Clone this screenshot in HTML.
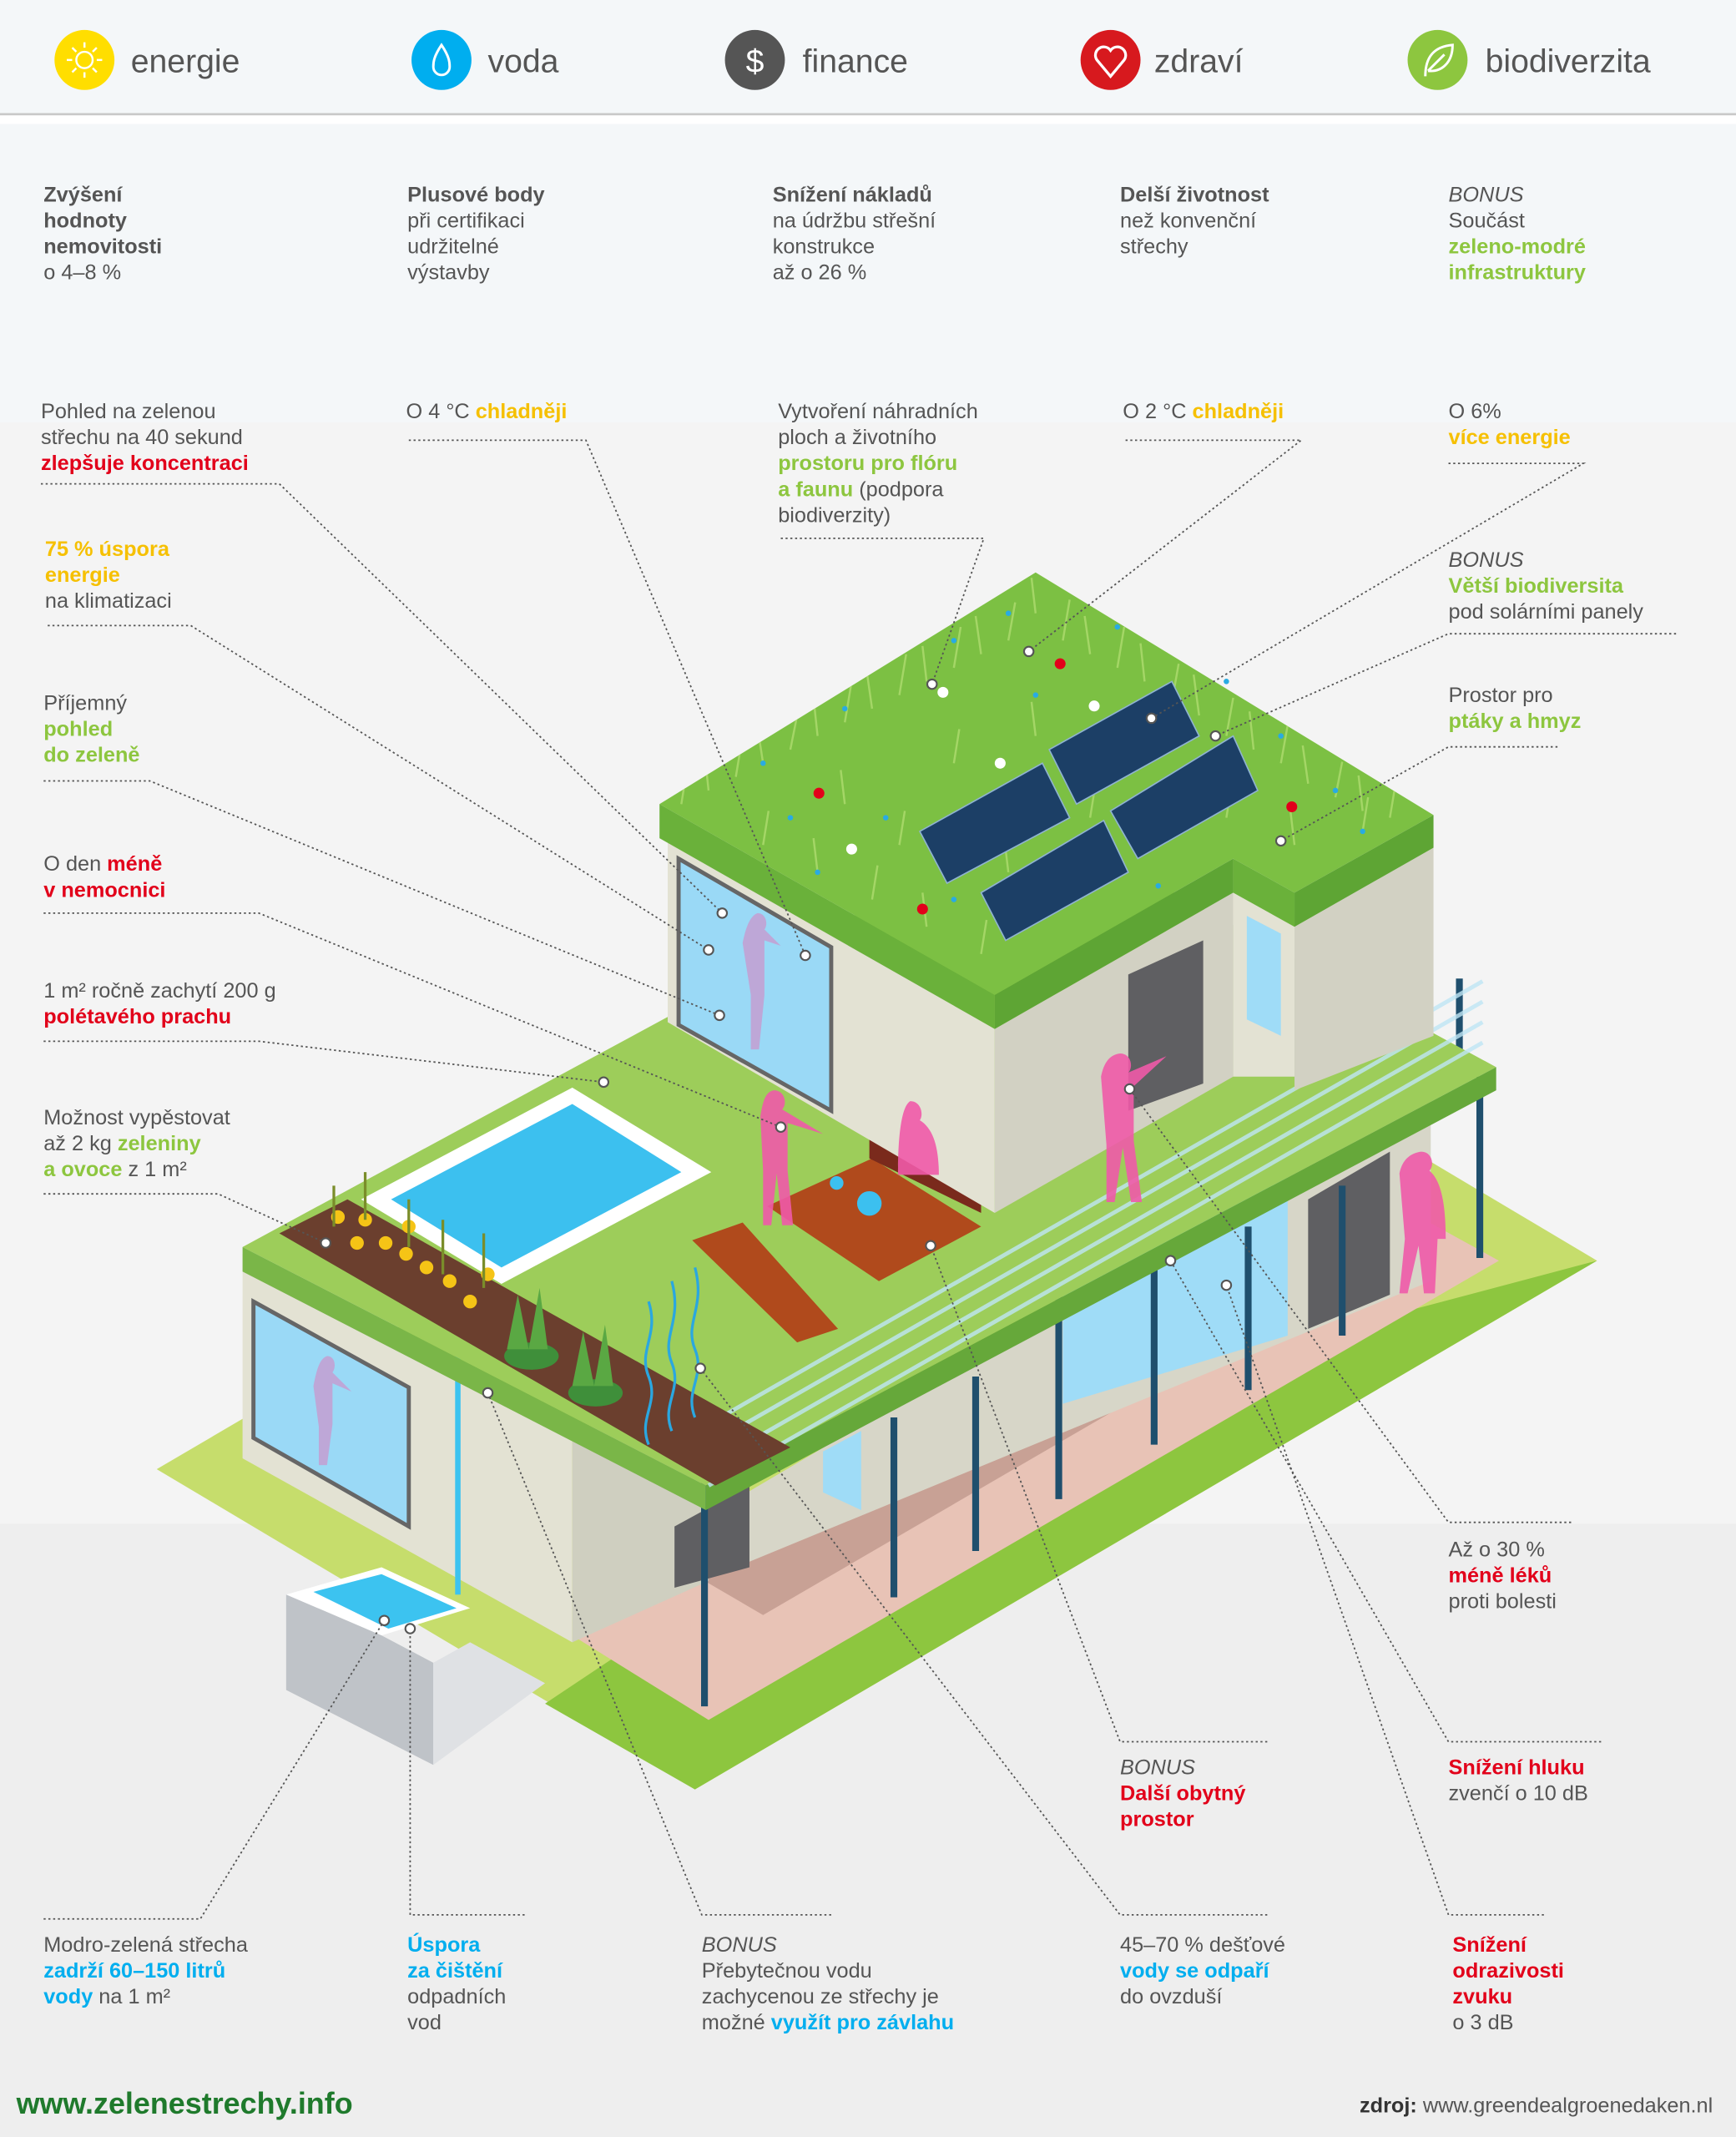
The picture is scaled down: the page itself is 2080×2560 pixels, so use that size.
<!DOCTYPE html>
<html><head><meta charset="utf-8"><style>
html,body{margin:0;padding:0;background:#f4f4f4}
svg{display:block}
text{font-family:"Liberation Sans",sans-serif;fill:#555;font-size:15.5px}
.b{font-weight:bold}
.r{fill:#e2001a;font-weight:bold}
.g{fill:#8dc63f;font-weight:bold}
.y{fill:#f6c000;font-weight:bold}
.bl{fill:#00aeef;font-weight:bold}
.i{font-style:italic}
.ld{fill:none;stroke:#555;stroke-width:1.1;stroke-dasharray:1.5 2}
.dot{fill:#fff;stroke:#555;stroke-width:1.3}
</style></head><body>
<svg width="2080" height="2560" viewBox="0 0 1274 1568" xmlns="http://www.w3.org/2000/svg">
<defs><clipPath id="roofc"><polygon points="484,590 760,420 1052,598 950,655 905,630 730,730"/></clipPath></defs>
<rect x="0" y="0" width="1274" height="1568" fill="#f4f4f4"/>
<rect x="0" y="0" width="1274" height="83" fill="#f4f7f9"/>
<rect x="0" y="83" width="1274" height="1.5" fill="#c8c8c8"/>
<rect x="0" y="85" width="1274" height="6" fill="#ffffff"/>
<rect x="0" y="91" width="1274" height="219" fill="#f4f7f9"/>
<rect x="0" y="1118" width="1274" height="450" fill="#eeeeee"/>

<circle cx="62" cy="44" r="22" fill="#ffde00"/>
<circle cx="62" cy="44" r="6" fill="none" stroke="#fff" stroke-width="1.5"/>
<g stroke="#fff" stroke-width="1.5"><line x1="62" y1="31" x2="62" y2="35"/><line x1="62" y1="53" x2="62" y2="57"/><line x1="49" y1="44" x2="53" y2="44"/><line x1="71" y1="44" x2="75" y2="44"/><line x1="53" y1="35" x2="56" y2="38"/><line x1="68" y1="50" x2="71" y2="53"/><line x1="53" y1="53" x2="56" y2="50"/><line x1="68" y1="38" x2="71" y2="35"/></g>
<text x="96" y="53" style="font-size:24px">energie</text>
<circle cx="324" cy="44" r="22" fill="#00aeef"/>
<path d="M324 33 C318 42 318 46 318 49 A6 6 0 0 0 330 49 C330 46 330 42 324 33Z" fill="none" stroke="#fff" stroke-width="1.8"/>
<text x="358" y="53" style="font-size:24px">voda</text>
<circle cx="554" cy="44" r="22" fill="#555"/>
<text x="554" y="53" text-anchor="middle" style="font-size:24px;fill:#fff">$</text>
<text x="589" y="53" style="font-size:24px">finance</text>
<circle cx="815" cy="44" r="22" fill="#d7191e"/>
<path d="M815 56 L805 44 A5.5 5.5 0 0 1 815 37 A5.5 5.5 0 0 1 825 44 Z" fill="none" stroke="#fff" stroke-width="2"/>
<text x="847" y="53" style="font-size:24px">zdraví</text>
<circle cx="1055" cy="44" r="22" fill="#8dc63f"/>
<path d="M1046 56 C1046 40 1054 34 1066 33 C1066 46 1058 53 1048 52 M1048 52 L1060 40" fill="none" stroke="#fff" stroke-width="1.8"/>
<text x="1090" y="53" style="font-size:24px">biodiverzita</text>

<text x="32" y="148" class="b">Zvýšení</text><text x="32" y="167" class="b">hodnoty</text><text x="32" y="186" class="b">nemovitosti</text><text x="32" y="205">o 4–8 %</text>
<text x="299" y="148" class="b">Plusové body</text><text x="299" y="167">při certifikaci</text><text x="299" y="186">udržitelné</text><text x="299" y="205">výstavby</text>
<text x="567" y="148" class="b">Snížení nákladů</text><text x="567" y="167">na údržbu střešní</text><text x="567" y="186">konstrukce</text><text x="567" y="205">až o 26 %</text>
<text x="822" y="148" class="b">Delší životnost</text><text x="822" y="167">než konvenční</text><text x="822" y="186">střechy</text>
<text x="1063" y="148" class="i">BONUS</text><text x="1063" y="167">Součást</text><text x="1063" y="186" class="g">zeleno-modré</text><text x="1063" y="205" class="g">infrastruktury</text>

<polygon points="115,1078 777,690 1172,925 510,1313" fill="#c6dd6c"/>
<polygon points="700,1050 1172,925 510,1313 400,1250" fill="#8dc63f"/>
<polygon points="420,1200 1000,870 1100,925 520,1262" fill="#e8c3b6"/>
<polygon points="500,1150 1000,870 1050,900 560,1185" fill="#c8a195"/>
<polygon points="178,920 420,1055 420,1205 178,1070" fill="#e3e2d3"/>
<polygon points="420,1055 520,1000 520,1160 420,1205" fill="#cfcfc0"/>
<polygon points="540,1100 1050,800 1050,940 540,1150" fill="#d7d6c8"/>
<polygon points="780,940 945,850 945,980 780,1030" fill="#9fdcf7"/>
<polygon points="960,880 1020,845 1020,950 960,975" fill="#5f5f62"/>
<polygon points="495,1120 550,1090 550,1150 495,1165" fill="#5f5f62"/>
<polygon points="604,1065 632,1050 632,1108 604,1095" fill="#9fdcf7"/>
<polygon points="186,955 300,1018 300,1120 186,1055" fill="#9ad9f6" stroke="#666" stroke-width="3"/>
<path d="M240 995 c6 0 7 8 4 12 l14 14 -14 -6 0 30 -4 30 -6 0 0 -28 -4 -30 c2-10 4-20 10-22z" fill="#c79ad0" opacity=".8"/>
<polygon points="210,1170 280,1150 345,1180 280,1200" fill="#ffffff"/>
<polygon points="230,1168 280,1155 335,1180 285,1195" fill="#3cc3f0"/>
<polygon points="210,1170 280,1200 318,1220 318,1295 210,1240" fill="#bfc3c8"/>
<polygon points="318,1220 345,1205 400,1235 318,1295" fill="#dfe1e4"/>
<line x1="336" y1="995" x2="336" y2="1170" stroke="#3cc3f0" stroke-width="4"/>
<g stroke="#1f4f6d" stroke-width="5">
<line x1="517" y1="1040" x2="517" y2="1252"/><line x1="656" y1="1040" x2="656" y2="1172"/><line x1="716" y1="1010" x2="716" y2="1138"/><line x1="777" y1="890" x2="777" y2="1100"/><line x1="847" y1="930" x2="847" y2="1060"/><line x1="916" y1="900" x2="916" y2="1020"/><line x1="985" y1="870" x2="985" y2="980"/><line x1="1086" y1="790" x2="1086" y2="923"/><line x1="1071" y1="718" x2="1071" y2="785"/>
</g>
<polygon points="178,915 760,600 1098,783 518,1090" fill="#9dcd5a"/>
<polygon points="178,915 518,1090 518,1108 178,933" fill="#7ab648"/>
<polygon points="518,1090 1098,783 1098,800 518,1108" fill="#66a83a"/>
<g stroke="#bfe6f5" stroke-width="3" opacity=".8"><line x1="520" y1="1045" x2="1088" y2="720"/><line x1="520" y1="1060" x2="1088" y2="735"/><line x1="520" y1="1075" x2="1088" y2="750"/><line x1="520" y1="1090" x2="1088" y2="765"/></g>
<polygon points="205,905 255,880 580,1062 525,1090" fill="#6b3f2e"/>
<polygon points="265,880 420,798 522,860 368,942" fill="#ffffff"/>
<polygon points="287,880 420,810 500,860 368,930" fill="#3cc0ef"/>
<g fill="#f5c416"><circle cx="248" cy="893" r="5"/><circle cx="268" cy="895" r="5"/><circle cx="283" cy="912" r="5"/><circle cx="298" cy="920" r="5"/><circle cx="313" cy="930" r="5"/><circle cx="330" cy="940" r="5"/><circle cx="345" cy="955" r="5"/><circle cx="358" cy="935" r="5"/><circle cx="262" cy="912" r="5"/><circle cx="300" cy="900" r="5"/></g>
<g stroke="#7a8d2a" stroke-width="2" fill="none"><path d="M245 870 v30 M268 860 v35 M300 880 v35 M325 895 v40 M355 905 v40"/></g>
<ellipse cx="390" cy="995" rx="20" ry="10" fill="#3f8f3a"/><path d="M372 990 l8-40 8 40 8-45 6 45z" fill="#5aa843"/>
<ellipse cx="437" cy="1022" rx="20" ry="10" fill="#3f8f3a"/><path d="M420 1017 l8-40 8 40 8-45 6 45z" fill="#5aa843"/>
<g stroke="#2aa7e0" stroke-width="2" fill="none"><path d="M476 1060 c-8-20 8-30 0-50 s8-30 0-55"/><path d="M493 1050 c-8-20 8-30 0-50 s8-30 0-60"/><path d="M510 1040 c-8-20 8-30 0-50 s8-30 0-60"/></g>
<polygon points="563,885 640,850 720,900 645,940" fill="#b04a1c"/>
<polygon points="638,820 720,860 720,890 638,850" fill="#7a2a1c"/>
<polygon points="508,910 545,897 615,975 585,985" fill="#b04a1c"/>
<circle cx="638" cy="883" r="9" fill="#3cc0ef"/><circle cx="614" cy="868" r="5" fill="#3cc0ef"/>
<polygon points="490,615 730,755 730,890 490,750" fill="#e3e2d3"/>
<polygon points="730,755 905,655 905,790 730,890" fill="#d2d1c3"/>
<polygon points="905,655 950,680 950,790 905,790" fill="#e3e2d3"/>
<polygon points="950,680 1052,622 1052,760 950,800" fill="#d2d1c3"/>
<polygon points="828,715 883,690 883,795 828,815" fill="#5f5f62"/>
<polygon points="915,672 940,685 940,760 915,748" fill="#9fdcf7"/>
<polygon points="498,630 610,695 610,815 498,752" fill="#9ad9f6" stroke="#666" stroke-width="3"/>
<path d="M556 670 c6 0 8 8 5 12 l12 12 -12-4 0 40 -4 40 -6 0 0-40 -6-38 c2-10 5-20 11-22z" fill="#c79ad0" opacity=".8"/>
<g fill="#ef5aa8" opacity=".9">
<path d="M568 800 c8 0 10 10 6 14 l30 18 -26-8 0 35 4 40 -8 0 -4-38 -4 38 -6 0 0-40 -2-40 c2-12 4-18 10-19z"/>
<path d="M668 808 c8 0 10 10 7 14 c10 6 14 20 14 40 l-30 0 c0-25 2-50 9-54z"/>
<path d="M822 773 c8 0 10 10 6 14 l28-12 -24 22 0 40 6 45 -8 0 -6-40 -6 40 -6 0 0-42 -4-50 c2-10 6-16 14-17z"/>
<path d="M1043 845 c8 0 10 10 6 14 c10 8 12 30 12 50 l-6 0 -2 40 -8 0 -4-35 -8 35 -6 0 4-40 -4 -48 c2-10 8-15 16-16z"/>
</g>
<polygon points="484,590 760,420 1052,598 950,655 905,630 730,730" fill="#7cc043"/>
<g clip-path="url(#roofc)" stroke="#a8d86a" stroke-width="1.5" fill="none" opacity=".9">
<path d="M500 590 l4-25 M520 580 l-3-28 M540 570 l5-30 M560 560 l-4-26 M580 550 l6-30 M600 540 l-3-28 M620 530 l5-30 M640 520 l-4-28 M660 510 l5-30 M680 500 l-3-26 M700 490 l5-30 M720 480 l-4-28 M740 470 l5-28 M760 450 l-3-26 M780 470 l5-30 M800 480 l-4-28 M820 490 l5-30 M840 500 l-3-28 M860 515 l5-28 M880 525 l-4-30 M900 540 l5-28 M920 550 l-3-28 M940 560 l5-28 M960 575 l-4-28 M980 585 l5-26 M1000 595 l-3-26 M1020 600 l4-24
M560 620 l4-25 M600 640 l-3-25 M640 660 l4-25 M680 680 l-3-25 M720 700 l4-25 M620 590 l-3-25 M700 560 l4-25 M760 540 l-3-25 M800 600 l4-25 M850 620 l-3-25 M900 600 l4-25 M950 620 l-3-25 M1000 610 l4-25 M740 640 l-3-25 M660 620 l4-25"/>
</g>
<polygon points="484,590 730,730 730,755 484,615" fill="#6ab13a"/>
<polygon points="730,730 905,630 905,655 730,755" fill="#5ea534"/>
<polygon points="905,630 950,655 950,680 905,655" fill="#6ab13a"/>
<polygon points="950,655 1052,598 1052,622 950,680" fill="#5ea534"/>
<g fill="#29abe2"><circle cx="560" cy="560" r="2"/><circle cx="620" cy="520" r="2"/><circle cx="700" cy="470" r="2"/><circle cx="760" cy="510" r="2"/><circle cx="820" cy="460" r="2"/><circle cx="650" cy="600" r="2"/><circle cx="700" cy="660" r="2"/><circle cx="900" cy="500" r="2"/><circle cx="980" cy="580" r="2"/><circle cx="1000" cy="610" r="2"/><circle cx="850" cy="650" r="2"/><circle cx="600" cy="640" r="2"/><circle cx="580" cy="600" r="2"/><circle cx="740" cy="450" r="2"/><circle cx="940" cy="540" r="2"/></g>
<g fill="#e2001a"><circle cx="601" cy="582" r="4"/><circle cx="778" cy="487" r="4"/><circle cx="677" cy="667" r="4"/><circle cx="948" cy="592" r="4"/></g>
<g fill="#fff"><circle cx="692" cy="508" r="4"/><circle cx="734" cy="560" r="4"/><circle cx="803" cy="518" r="4"/><circle cx="625" cy="623" r="4"/></g>
<g fill="#1c3f66" stroke="#8fb3d0" stroke-width="1">
<polygon points="675,610 765,560 785,600 695,648"/>
<polygon points="720,655 810,602 828,640 738,690"/>
<polygon points="770,550 860,500 880,540 790,590"/>
<polygon points="815,595 905,540 923,580 835,630"/>
</g>
<g class="ld">
<polyline points="30,355 205,355 530,670"/>
<polyline points="300,323 430,323 591,701"/>
<polyline points="573,395 722,395 684,502"/>
<polyline points="826,323 955,323 755,478"/>
<polyline points="1063,340 1162,340 845,527"/>
<polyline points="1230,465 1063,465 892,540"/>
<polyline points="1143,548 1063,548 940,617"/>
<polyline points="35,459 140,459 520,697"/>
<polyline points="32,573 110,573 528,745"/>
<polyline points="32,670 190,670 573,827"/>
<polyline points="32,764 190,764 443,794"/>
<polyline points="32,876 160,876 239,912"/>
<polyline points="32,1408 147,1408 282,1189"/>
<polyline points="385,1405 301,1405 301,1195"/>
<polyline points="610,1405 515,1405 358,1022"/>
<polyline points="930,1405 822,1405 514,1004"/>
<polyline points="930,1278 822,1278 683,914"/>
<polyline points="1175,1278 1063,1278 859,925"/>
<polyline points="1133,1405 1063,1405 900,943"/>
<polyline points="1153,1117 1063,1117 829,799"/>
</g>
<g class="dot">
<circle cx="530" cy="670" r="3.5"/><circle cx="591" cy="701" r="3.5"/><circle cx="684" cy="502" r="3.5"/><circle cx="755" cy="478" r="3.5"/><circle cx="845" cy="527" r="3.5"/><circle cx="892" cy="540" r="3.5"/><circle cx="940" cy="617" r="3.5"/><circle cx="520" cy="697" r="3.5"/><circle cx="528" cy="745" r="3.5"/><circle cx="573" cy="827" r="3.5"/><circle cx="443" cy="794" r="3.5"/><circle cx="239" cy="912" r="3.5"/><circle cx="282" cy="1189" r="3.5"/><circle cx="301" cy="1195" r="3.5"/><circle cx="358" cy="1022" r="3.5"/><circle cx="514" cy="1004" r="3.5"/><circle cx="683" cy="914" r="3.5"/><circle cx="859" cy="925" r="3.5"/><circle cx="900" cy="943" r="3.5"/><circle cx="829" cy="799" r="3.5"/>
</g>

<text x="30" y="307">Pohled na zelenou</text><text x="30" y="326">střechu na 40 sekund</text><text x="30" y="345" class="r">zlepšuje koncentraci</text>
<text x="298" y="307">O 4 °C <tspan class="y">chladněji</tspan></text>
<text x="571" y="307">Vytvoření náhradních</text><text x="571" y="326">ploch a životního</text><text x="571" y="345" class="g">prostoru pro flóru</text><text x="571" y="364"><tspan class="g">a faunu</tspan> (podpora</text><text x="571" y="383">biodiverzity)</text>
<text x="824" y="307">O 2 °C <tspan class="y">chladněji</tspan></text>
<text x="1063" y="307">O 6%</text><text x="1063" y="326" class="y">více energie</text>
<text x="1063" y="416" class="i">BONUS</text><text x="1063" y="435" class="g">Větší biodiversita</text><text x="1063" y="454">pod solárními panely</text>
<text x="1063" y="515">Prostor pro</text><text x="1063" y="534" class="g">ptáky a  hmyz</text>
<text x="33" y="408" class="y">75 % úspora</text><text x="33" y="427" class="y">energie</text><text x="33" y="446">na klimatizaci</text>
<text x="32" y="521">Příjemný</text><text x="32" y="540" class="g">pohled</text><text x="32" y="559" class="g">do zeleně</text>
<text x="32" y="639">O den <tspan class="r">méně</tspan></text><text x="32" y="658" class="r">v nemocnici</text>
<text x="32" y="732">1 m² ročně zachytí 200 g</text><text x="32" y="751" class="r">polétavého prachu</text>
<text x="32" y="825">Možnost vypěstovat</text><text x="32" y="844">až 2 kg <tspan class="g">zeleniny</tspan></text><text x="32" y="863"><tspan class="g">a ovoce</tspan> z 1 m²</text>
<text x="1063" y="1142">Až o 30 %</text><text x="1063" y="1161" class="r">méně léků</text><text x="1063" y="1180">proti bolesti</text>
<text x="822" y="1302" class="i">BONUS</text><text x="822" y="1321" class="r">Další obytný</text><text x="822" y="1340" class="r">prostor</text>
<text x="1063" y="1302" class="r">Snížení hluku</text><text x="1063" y="1321">zvenčí o 10 dB</text>
<text x="32" y="1432">Modro-zelená střecha</text><text x="32" y="1451" class="bl">zadrží 60–150 litrů</text><text x="32" y="1470"><tspan class="bl">vody</tspan> na 1 m²</text>
<text x="299" y="1432" class="bl">Úspora</text><text x="299" y="1451" class="bl">za čištění</text><text x="299" y="1470">odpadních</text><text x="299" y="1489">vod</text>
<text x="515" y="1432" class="i">BONUS</text><text x="515" y="1451">Přebytečnou vodu</text><text x="515" y="1470">zachycenou ze střechy je</text><text x="515" y="1489">možné <tspan class="bl">využít pro  závlahu</tspan></text>
<text x="822" y="1432">45–70 % dešťové</text><text x="822" y="1451"><tspan class="bl">vody se odpaří</tspan></text><text x="822" y="1470">do ovzduší</text>
<text x="1066" y="1432" class="r">Snížení</text><text x="1066" y="1451" class="r">odrazivosti</text><text x="1066" y="1470" class="r">zvuku</text><text x="1066" y="1489">o 3 dB</text>

<text x="12" y="1551" style="font-size:22px;font-weight:bold;fill:#1f7a2c">www.zelenestrechy.info</text>
<text x="1257" y="1550" text-anchor="end" style="font-size:15.5px"><tspan font-weight="bold" fill="#333">zdroj:</tspan> www.greendealgroenedaken.nl</text>
</svg>
</body></html>
